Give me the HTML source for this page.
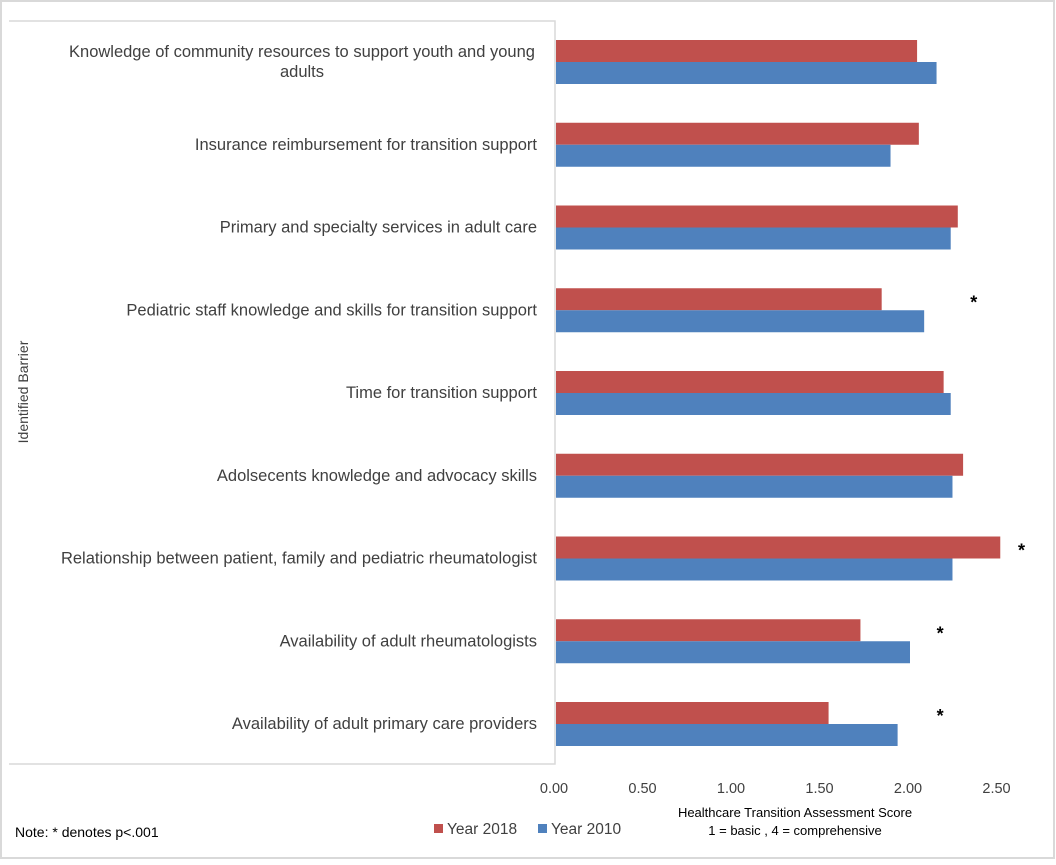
<!DOCTYPE html>
<html><head><meta charset="utf-8"><style>
body{margin:0;background:#fff;font-family:"Liberation Sans",sans-serif;}
svg text{font-family:"Liberation Sans",sans-serif;fill:#404040;}
</style></head><body>
<svg width="1056" height="860" xmlns="http://www.w3.org/2000/svg" id="chart">
<rect x="1" y="1" width="1053" height="857" fill="#fff" stroke="#d9d9d9" stroke-width="2"/>
<polyline points="9,21 555,21 555,764 9,764" fill="none" stroke="#d9d9d9" stroke-width="1.5"/>
<text transform="translate(28,392) rotate(-90)" text-anchor="middle" font-size="14">Identified Barrier</text>
<g id="bars"></g>
<g id="labels"></g>
<g id="ticks"></g>
<text x="795" y="817" text-anchor="middle" font-size="13" style="fill:#000">Healthcare Transition Assessment Score</text>
<text x="795" y="835" text-anchor="middle" font-size="13" style="fill:#000">1 = basic , 4 = comprehensive</text>
<rect x="434" y="824" width="9" height="9" fill="#C0504D"/>
<text x="447" y="834" font-size="15.5">Year 2018</text>
<rect x="538" y="824" width="9" height="9" fill="#4F81BD"/>
<text x="551" y="834" font-size="15.5">Year 2010</text>
<text x="15" y="837" font-size="14" style="fill:#000">Note: * denotes p&lt;.001</text>
</svg>
<script>
const categories=[["Knowledge of community resources to support youth and young","adults"],["Insurance reimbursement for transition support"],["Primary and specialty services in adult care"],["Pediatric staff knowledge and skills for transition support"],["Time for transition support"],["Adolsecents knowledge and advocacy skills"],["Relationship between patient, family and pediatric rheumatologist"],["Availability of adult rheumatologists"],["Availability of adult primary care providers"]];
const year2018=[2.04,2.05,2.27,1.84,2.19,2.30,2.51,1.72,1.54];
const year2010=[2.15,1.89,2.23,2.08,2.23,2.24,2.24,2.00,1.93];
const significant=[false,false,false,true,false,false,true,true,true];
const starX=[0,0,0,2.36,0,0,2.63,2.17,2.17];
const tickValues=[0,0.5,1,1.5,2,2.5];
const tickLabels=["0.00","0.50","1.00","1.50","2.00","2.50"];
const NS="http://www.w3.org/2000/svg";
const x0=556,pxu=177;
function xs(v){return x0+v*pxu;}
function rowTop(i){return 40+i*82.75;}
const bars=document.getElementById('bars'),labels=document.getElementById('labels'),ticks=document.getElementById('ticks');
function mk(tag,attrs,parent){const e=document.createElementNS(NS,tag);for(const k in attrs)e.setAttribute(k,attrs[k]);parent.appendChild(e);return e;}
categories.forEach((c,i)=>{
 const t=rowTop(i);
 let r=mk('rect',{x:x0,y:t,width:xs(year2018[i])-x0,height:22,fill:'#C0504D'},bars);
 
 
 r=mk('rect',{x:x0,y:t+22,width:xs(year2010[i])-x0,height:22,fill:'#4F81BD'},bars);
 
 
 const cy=t+22;
 c.forEach((line,j)=>{
  const tx=mk('text',{x:c.length>1?302:537,y:cy+5+(j-(c.length-1)/2)*20,'text-anchor':c.length>1?'middle':'end','font-size':16.5},labels);
  tx.textContent=line;
  
  
 });
 if(significant[i]){
  const s=mk('text',{x:xs(starX[i]),y:t+20,'text-anchor':'middle','font-size':18,'font-weight':'bold',style:'fill:#000'},labels);
  s.textContent='*';
  
  
 }
});
tickValues.forEach((v,i)=>{
 const tx=mk('text',{x:xs(v)-2,y:793,'text-anchor':'middle','font-size':14.5},ticks);
 tx.textContent=tickLabels[i];
 
 
});
</script>
</body></html>
